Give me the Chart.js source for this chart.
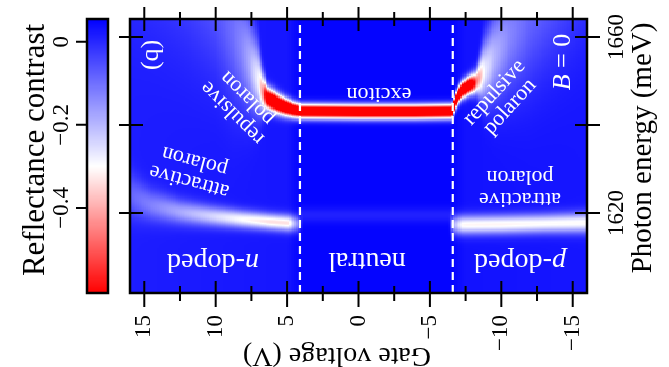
<!DOCTYPE html>
<html><head><meta charset="utf-8">
<script src="https://cdn.jsdelivr.net/npm/chart.js@4.4.1/dist/chart.umd.min.js"></script>
<style>html,body{margin:0;padding:0;background:#fff;}#wrap{position:relative;width:669px;height:367px;}</style>
</head><body><div id="wrap"><canvas id="c" width="669" height="367"></canvas></div>
<script>
// ---------------- data ----------------
const xTickValues = [15, 10, 5, 0, -5, -10, -15];
const xTickLabels = ['15', '10', '5', '0', '−5', '−10', '−15'];
const xMinorTicks = [12.5, 7.5, 2.5, -2.5, -7.5, -12.5];
const yTickValues = [1660, 1640, 1620];
const yTickLabels = ['1660', '', '1620'];
const cbTickValues = [0, -0.2, -0.4];
const cbTickLabels = ['0', '−0.2', '−0.4'];
const regionBoundaries = [4.1, -6.6];           // dashed lines (gate voltage, V)

// upper branch: repulsive polaron (n side) -> exciton -> repulsive polaron (p side)
const upperV     = [16, 12, 10, 8.8, 8.1, 7.55, 7.0, 6.7, 6.4, 6.0, 5.3, 4.6, 4.0, 0, -4, -6.55, -6.85, -7.27, -7.8, -8.25, -8.9, -9.6, -10.6, -12, -16];
const upperE     = [1690, 1676, 1668, 1661.5, 1657.5, 1653.6, 1650.0, 1647.5, 1646.2, 1645.4, 1644.3, 1643.5, 1643.1, 1643.0, 1643.0, 1643.1, 1646.1, 1648.0, 1649.1, 1649.8, 1652.5, 1656, 1660.5, 1665, 1680];
const upperAmp   = [-0.05, -0.06, -0.08, -0.12, -0.16, -0.22, -0.32, -0.45, -0.8, -0.9, -0.9, -0.9, -0.9, -0.9, -0.9, -0.9, -0.9, -0.9, -0.85, -0.5, -0.3, -0.22, -0.16, -0.11, -0.06];
const upperWidth = [16, 14, 12, 11, 9, 7, 5, 3, 1.7, 1.6, 1.4, 1.2, 1.1, 1.1, 1.1, 1.1, 1.2, 1.3, 1.4, 1.8, 5, 7, 9, 11, 14];

// attractive polaron, n-doped side
const attrNV     = [16, 14.55, 12.45, 10.35, 8.25, 6.15, 4.9, 4.3, 3.9];
const attrNE     = [1624.1, 1621.8, 1620.2, 1619.3, 1618.6, 1618.0, 1617.7, 1617.6, 1617.6];
const attrNAmp   = [-0.1, -0.14, -0.2, -0.26, -0.32, -0.36, -0.36, -0.2, 0];
const attrNWidth = [3.5, 2.5, 1.9, 1.6, 1.4, 1.3, 1.3, 1.3, 1.3];

// attractive polaron, p-doped side
const attrPV     = [-6.3, -6.7, -7.3, -10, -13, -16];
const attrPE     = [1617.3, 1617.3, 1617.3, 1617.4, 1617.6, 1617.8];
const attrPAmp   = [0, -0.25, -0.34, -0.34, -0.33, -0.33];
const attrPWidth = [1.5, 1.5, 1.5, 1.5, 1.5, 1.6];

// faint line in the neutral region
const neutralV     = [4.0, -6.5];
const neutralE     = [1619.5, 1619.5];
const neutralAmp   = [-0.04, -0.04];
const neutralWidth = [1.2, 1.2];

// background level across gate voltage (doped regions slightly lighter)
const backgroundV     = [16, 5, 4.1, -6.6, -7.5, -16];
const backgroundLevel = [0.015, 0.025, 0.05, 0.05, 0.03, 0.025];

// ---------------- helpers ----------------
const FONT = '"Liberation Serif", "Times New Roman", serif';
function interp(vs, ys, v) {
  if (v > vs[0] || v < vs[vs.length - 1]) return null;
  for (let i = 0; i < vs.length - 1; i++) {
    if (v <= vs[i] && v >= vs[i + 1]) {
      const t = (vs[i] - v) / (vs[i] - vs[i + 1]);
      return ys[i] + t * (ys[i + 1] - ys[i]);
    }
  }
  return null;
}
const features = [
  [upperV, upperE, upperAmp, upperWidth],
  [attrNV, attrNE, attrNAmp, attrNWidth],
  [attrPV, attrPE, attrPAmp, attrPWidth],
  [neutralV, neutralE, neutralAmp, neutralWidth]
];
function featuresAt(v) {
  const out = [];
  for (const [vs, es, as, ws] of features) {
    const E = interp(vs, es, v);
    if (E === null) continue;
    out.push({ E, A: interp(vs, as, v), s: interp(vs, ws, v) });
  }
  return out;
}
const CB_MAX = 0.055, CB_MID = -0.3, CB_MIN = -0.605;
function colorFor(val) {
  let r, g, b;
  if (val >= CB_MID) {
    let t = (CB_MAX - val) / (CB_MAX - CB_MID); t = Math.max(0, Math.min(1, t));
    r = g = Math.round(255 * t); b = 255;
  } else {
    let t = (CB_MID - val) / (CB_MID - CB_MIN); t = Math.max(0, Math.min(1, t));
    r = 255; g = b = Math.round(255 * (1 - t));
  }
  return 'rgb(' + r + ',' + g + ',' + b + ')';
}
function drawRuns(ctx, runs, cx, cy, rotDeg, size, color, align) {
  ctx.save();
  ctx.translate(cx, cy);
  ctx.rotate(rotDeg * Math.PI / 180);
  ctx.fillStyle = color;
  ctx.textBaseline = 'middle';
  ctx.textAlign = 'left';
  let total = 0;
  const widths = runs.map(r => {
    ctx.font = (r.italic ? 'italic ' : '') + size + 'px ' + FONT;
    const w = ctx.measureText(r.text).width; total += w; return w;
  });
  let xx = align === 'right' ? -total : (align === 'left' ? 0 : -total / 2);
  runs.forEach((r, i) => {
    ctx.font = (r.italic ? 'italic ' : '') + size + 'px ' + FONT;
    ctx.fillText(r.text, xx, 0);
    xx += widths[i];
  });
  ctx.restore();
}
function txt(ctx, s, cx, cy, rot, size, color, align) { drawRuns(ctx, [{ text: s }], cx, cy, rot, size, color, align); }
function twoLines(ctx, l1, l2, cx, cy, rotDeg, size, gap) {
  const th = rotDeg * Math.PI / 180;
  const dx = -Math.sin(th), dy = Math.cos(th);
  txt(ctx, l1, cx - dx * gap / 2, cy - dy * gap / 2, rotDeg, size, '#fff');
  txt(ctx, l2, cx + dx * gap / 2, cy + dy * gap / 2, rotDeg, size, '#fff');
}

// ---------------- plugins ----------------
const heatmapPlugin = {
  id: 'heatmap',
  beforeDatasetsDraw(chart) {
    const { ctx, chartArea: a, scales: { x, y } } = chart;
    ctx.save();
    ctx.beginPath(); ctx.rect(a.left, a.top, a.right - a.left, a.bottom - a.top); ctx.clip();
    const dv = 0.125, de = 0.25;
    for (let v = -16; v < 16 - 1e-9; v += dv) {
      const xa = Math.round(x.getPixelForValue(v)), xb = Math.round(x.getPixelForValue(v + dv));
      const feats = featuresAt(v + dv / 2);
      const bg = interp(backgroundV, backgroundLevel, v + dv / 2);
      for (let e = 1601.5; e < 1664.5; e += de) {
        const ya = Math.round(y.getPixelForValue(e + de)), yb = Math.round(y.getPixelForValue(e));
        const ec = e + de / 2;
        let val = bg;
        for (const f of feats) { const d = (ec - f.E) / f.s; val += f.A * Math.exp(-0.5 * d * d); }
        ctx.fillStyle = colorFor(val);
        ctx.fillRect(Math.min(xa, xb), ya, Math.abs(xb - xa), yb - ya);
      }
    }
    ctx.restore();
  }
};

const decorPlugin = {
  id: 'decor',
  afterDatasetsDraw(chart) {
    const { ctx, chartArea: a, scales: { x, y, cb } } = chart;
    // annotations
    drawRuns(ctx, [{ text: '(b)' }], 153, 55, 90, 26, '#fff');
    drawRuns(ctx, [{ text: 'B', italic: true }, { text: ' = 0' }], 563, 62, -90, 26, '#fff');
    txt(ctx, 'exciton', 379, 94, 180, 22, '#fff');
    twoLines(ctx, 'repulsive', 'polaron', 240, 105.5, 225, 22, 21);
    twoLines(ctx, 'repulsive', 'polaron', 502, 99.5, -47.5, 22, 21);
    twoLines(ctx, 'attractive', 'polaron', 192, 171, 195, 22, 21);
    twoLines(ctx, 'attractive', 'polaron', 520, 188, 180, 22, 22);
    drawRuns(ctx, [{ text: 'n', italic: true }, { text: '-doped' }], 213, 261, 180, 28, '#fff');
    txt(ctx, 'neutral', 367, 260, 180, 28, '#fff');
    drawRuns(ctx, [{ text: 'p', italic: true }, { text: '-doped' }], 520, 261, 180, 28, '#fff');

    // frame
    ctx.save();
    ctx.strokeStyle = '#000'; ctx.lineWidth = 2.5;
    ctx.strokeRect(a.left, a.top, a.right - a.left, a.bottom - a.top);
    ctx.lineWidth = 2;
    ctx.beginPath();
    for (const v of xTickValues) {
      const px = x.getPixelForValue(v);
      ctx.moveTo(px, a.top - 12); ctx.lineTo(px, a.top + 12);
      ctx.moveTo(px, a.bottom - 12); ctx.lineTo(px, a.bottom + 14);
    }
    for (const v of xMinorTicks) {
      const px = x.getPixelForValue(v);
      ctx.moveTo(px, a.top - 7); ctx.lineTo(px, a.top + 7);
      ctx.moveTo(px, a.bottom - 7); ctx.lineTo(px, a.bottom + 8);
    }
    for (const v of yTickValues) {
      const py = y.getPixelForValue(v);
      ctx.moveTo(a.left - 11, py); ctx.lineTo(a.left + 13, py);
      ctx.moveTo(a.right - 12, py); ctx.lineTo(a.right + 13, py);
    }
    ctx.stroke();
    ctx.restore();

    // tick labels
    xTickValues.forEach((v, i) => txt(ctx, xTickLabels[i], x.getPixelForValue(v), 315, -90, 23, '#000', 'right'));
    yTickValues.forEach((v, i) => { if (yTickLabels[i]) txt(ctx, yTickLabels[i], 617, y.getPixelForValue(v), -90, 23, '#000'); });

    // axis titles
    txt(ctx, 'Gate voltage (V)', 337, 355, 180, 28, '#000');
    txt(ctx, 'Photon energy (meV)', 643, 148, -90, 29, '#000');

    // colorbar
    const cbL = 87, cbR = 108;
    const step = 0.0025;
    for (let v = CB_MIN; v < CB_MAX - 1e-9; v += step) {
      const ya = Math.round(cb.getPixelForValue(v + step)), yb = Math.round(cb.getPixelForValue(v));
      ctx.fillStyle = colorFor(v + step / 2);
      ctx.fillRect(cbL, ya, cbR - cbL, Math.max(1, yb - ya));
    }
    ctx.save();
    ctx.strokeStyle = '#000'; ctx.lineWidth = 2.5;
    ctx.strokeRect(cbL, a.top, cbR - cbL, a.bottom - a.top);
    ctx.lineWidth = 2;
    ctx.beginPath();
    for (const v of cbTickValues) {
      const py = cb.getPixelForValue(v);
      ctx.moveTo(cbL - 11, py); ctx.lineTo(cbL, py);
    }
    ctx.stroke();
    ctx.restore();
    cbTickValues.forEach((v, i) => txt(ctx, cbTickLabels[i], 62, cb.getPixelForValue(v), -90, 23, '#000'));
    txt(ctx, 'Reflectance contrast', 36, 150, -90, 31, '#000');
  }
};

const yMin = 1601.8, yMax = 1664.1;
new Chart(document.getElementById('c').getContext('2d'), {
  type: 'scatter',
  data: {
    datasets: regionBoundaries.map(v => ({
      data: [{ x: v, y: yMin }, { x: v, y: yMax }],
      showLine: true, borderColor: '#ffffff', borderWidth: 2.2, borderDash: [8, 5],
      pointRadius: 0, fill: false
    }))
  },
  options: {
    responsive: false, animation: false, events: [],
    layout: { padding: { left: 130, top: 19, right: 82, bottom: 74 } },
    plugins: { legend: { display: false }, tooltip: { enabled: false }, title: { display: false } },
    scales: {
      x: { type: 'linear', min: -16, max: 16, reverse: true, display: false },
      y: { type: 'linear', min: yMin, max: yMax, display: false },
      cb: { type: 'linear', axis: 'y', min: CB_MIN, max: CB_MAX, display: false }
    }
  },
  plugins: [heatmapPlugin, decorPlugin]
});
</script>
</body></html>
